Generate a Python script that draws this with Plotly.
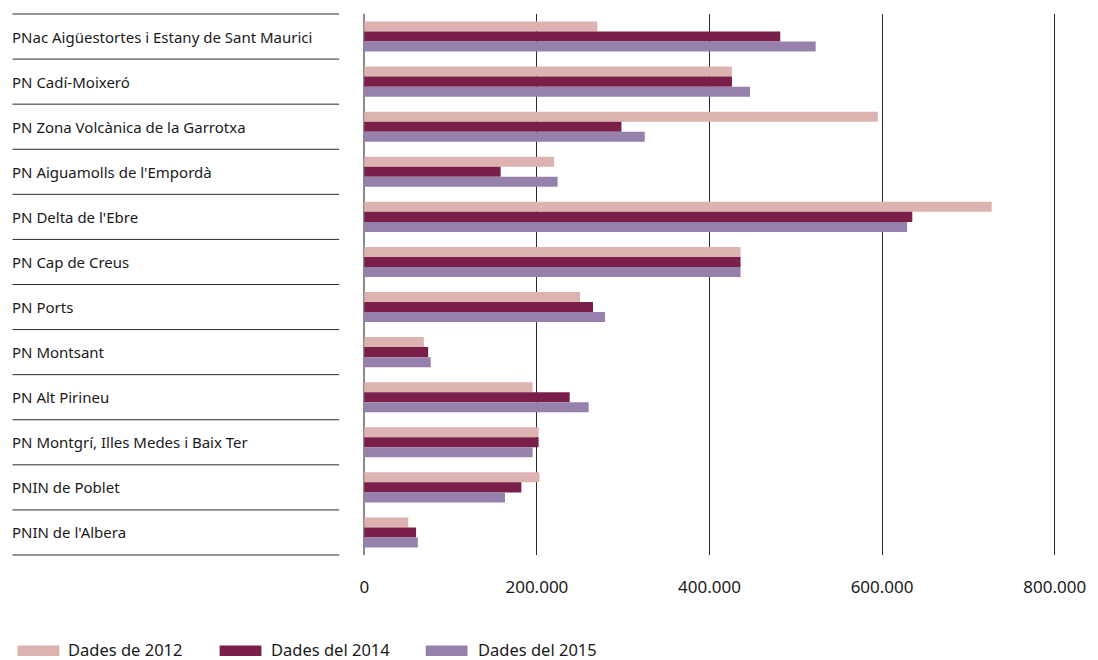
import plotly.graph_objects as go

categories = [
    "PNac Aigüestortes i Estany de Sant Maurici",
    "PN Cadí-Moixeró",
    "PN Zona Volcànica de la Garrotxa",
    "PN Aiguamolls de l'Empordà",
    "PN Delta de l'Ebre",
    "PN Cap de Creus",
    "PN Ports",
    "PN Montsant",
    "PN Alt Pirineu",
    "PN Montgrí, Illes Medes i Baix Ter",
    "PNIN de Poblet",
    "PNIN de l'Albera",
]

series_names = ["Dades de 2012", "Dades del 2014", "Dades del 2015"]

values_2012 = [270000, 426000, 595000, 220000, 727000, 436000, 250000, 69000, 195000, 202000, 203000, 51000]
values_2014 = [482000, 426000, 298000, 158000, 635000, 436000, 265000, 74000, 238000, 202000, 182000, 60000]
values_2015 = [523000, 447000, 325000, 224000, 629000, 436000, 279000, 77000, 260000, 195000, 163000, 62000]

tick_vals = [0, 200000, 400000, 600000, 800000]
tick_text = ["0", "200.000", "400.000", "600.000", "800.000"]

colors = ["#DCB3B1", "#7A1F49", "#9680AC"]
FONT = "Noto Sans"
TEXT = "#1a1a1a"

W, H = 1098, 660
ML, MR, MT, MB = 363, 36, 14, 105
PW = W - ML - MR
PH = H - MT - MB

def px_x(x):
    return (x - ML) / PW

def px_y(y):
    return (H - MB - y) / PH

fig = go.Figure()
for name, vals, col in zip(series_names, [values_2012, values_2014, values_2015], colors):
    fig.add_trace(go.Bar(
        y=categories, x=vals, name=name, orientation="h",
        marker=dict(color=col, line=dict(width=0)),
        showlegend=False, hoverinfo="x+y",
    ))

shapes = []
# left separators
n = len(categories)
for k in range(n + 1):
    shapes.append(dict(type="line", xref="paper", yref="paper",
                       x0=px_x(11), x1=px_x(339), y0=k / n, y1=k / n,
                       line=dict(color="#2a2a2a", width=1)))

annotations = []
for c in categories:
    annotations.append(dict(xref="paper", yref="y", x=px_x(8), y=c,
                            text=c, showarrow=False, xanchor="left", yanchor="middle",
                            font=dict(family=FONT, size=15, color=TEXT)))

# custom legend
sw_x = [16, 219, 426]
tx_x = [65, 269, 476]
for name, col, sx, tx in zip(series_names, colors, sw_x, tx_x):
    shapes.append(dict(type="rect", xref="paper", yref="paper",
                       x0=px_x(sx), x1=px_x(sx + 42), y0=px_y(656), y1=px_y(645.5),
                       fillcolor=col, line=dict(width=0)))
    annotations.append(dict(xref="paper", yref="paper", x=px_x(tx), y=px_y(649.5),
                            text=name, showarrow=False, xanchor="left", yanchor="middle",
                            font=dict(family=FONT, size=16.5, color=TEXT)))

fig.update_layout(
    width=W, height=H,
    margin=dict(l=ML, r=MR, t=MT, b=MB, pad=0),
    paper_bgcolor="white", plot_bgcolor="white",
    barmode="group", bargap=1/3, bargroupgap=0,
    shapes=shapes, annotations=annotations,
    font=dict(family=FONT, color=TEXT),
    xaxis=dict(range=[-1500, 805000], tickvals=tick_vals, ticktext=tick_text,
               showgrid=True, gridcolor="#2a2a2a", gridwidth=1,
               zeroline=True, zerolinecolor="#8a8a8a", zerolinewidth=1.5,
               showline=False, ticks="", ticklabelstandoff=20,
               tickfont=dict(family=FONT, size=17, color=TEXT), fixedrange=True),
    yaxis=dict(autorange="reversed", showticklabels=False, showgrid=False,
               zeroline=False, showline=False, ticks="", fixedrange=True),
)

fig.write_html(
    "out.html",
    config={"displayModeBar": False},
    post_script="document.body.style.margin='0';document.body.style.overflow='hidden';",
)
